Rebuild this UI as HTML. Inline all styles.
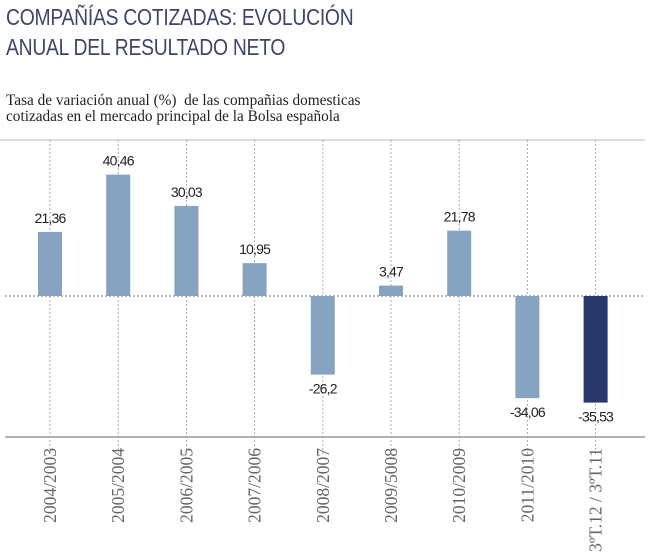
<!DOCTYPE html>
<html><head><meta charset="utf-8"><style>
body{margin:0;background:#fff;width:649px;height:554px;overflow:hidden}
.t{position:absolute;left:6px;font-family:"Liberation Sans",sans-serif;color:#3c4668;font-size:23px;letter-spacing:-0.3px;transform:scaleX(0.84);transform-origin:left}
.s{position:absolute;left:6px;font-family:"Liberation Serif",serif;font-size:15.3px;color:#222;line-height:16px}
</style></head><body>
<div class="t" style="top:4px">COMPAÑÍAS COTIZADAS: EVOLUCIÓN</div>
<div class="t" style="top:34px">ANUAL DEL RESULTADO NETO</div>
<div class="s" style="top:93px">Tasa de variación anual (%) &nbsp;de las compañias domesticas<br>cotizadas en el mercado principal de la Bolsa española</div>
<svg id="chart" width="649" height="554" style="position:absolute;left:0;top:0"></svg>
<script>
const categories=["2004/2003","2005/2004","2006/2005","2007/2006","2008/2007","2009/5008","2010/2009","2011/2010","3ºT.12 / 3ºT.11"];
const values=[21.36,40.46,30.03,10.95,-26.2,3.47,21.78,-34.06,-35.53];
const valueLabels=["21,36","40,46","30,03","10,95","-26,2","3,47","21,78","-34,06","-35,53"];
const NS="http://www.w3.org/2000/svg",svg=document.getElementById('chart');
const zeroY=296,k=3.0;
const y=v=>zeroY-v*k;
const x=i=>50+i*68.2;
function mk(t,a){const e=document.createElementNS(NS,t);for(const n in a)e.setAttribute(n,a[n]);svg.appendChild(e);return e;}
let e;
e=mk('line',{x1:0,x2:645,y1:140,y2:140,stroke:'#bbb','stroke-width':1});


e=mk('line',{x1:5,x2:645,y1:437,y2:437,stroke:'#666','stroke-width':1});


categories.forEach((cat,i)=>{
 e=mk('line',{x1:x(i),x2:x(i),y1:140,y2:455,stroke:'#999','stroke-width':0.8,'stroke-dasharray':'2,2'});
 
 
});
e=mk('line',{x1:5,x2:645,y1:zeroY,y2:zeroY,stroke:'#444','stroke-width':0.8,'stroke-dasharray':'2,2'});


values.forEach((v,i)=>{
 const last=i===values.length-1;
 e=mk('rect',{x:x(i)-12,width:24,y:Math.min(y(v),zeroY),height:Math.abs(v*k),fill:last?'#27396b':'#86a3c2'});
 
 
 const ly=v>=0?y(v)-9:y(v)+19;
 e=mk('text',{x:x(i),y:ly,'text-anchor':'middle','font-family':'Liberation Sans, sans-serif','font-size':14,fill:'#222','letter-spacing':'-0.8'});
 e.textContent=valueLabels[i];
 
 
 e=mk('text',{x:0,y:0,transform:`translate(${x(i)+6},448) rotate(-90)`,'text-anchor':'end','font-family':'Liberation Serif, serif','font-size':17.5,fill:'#666'});
 e.textContent=categories[i];
 
 
});
</script>
</body></html>
